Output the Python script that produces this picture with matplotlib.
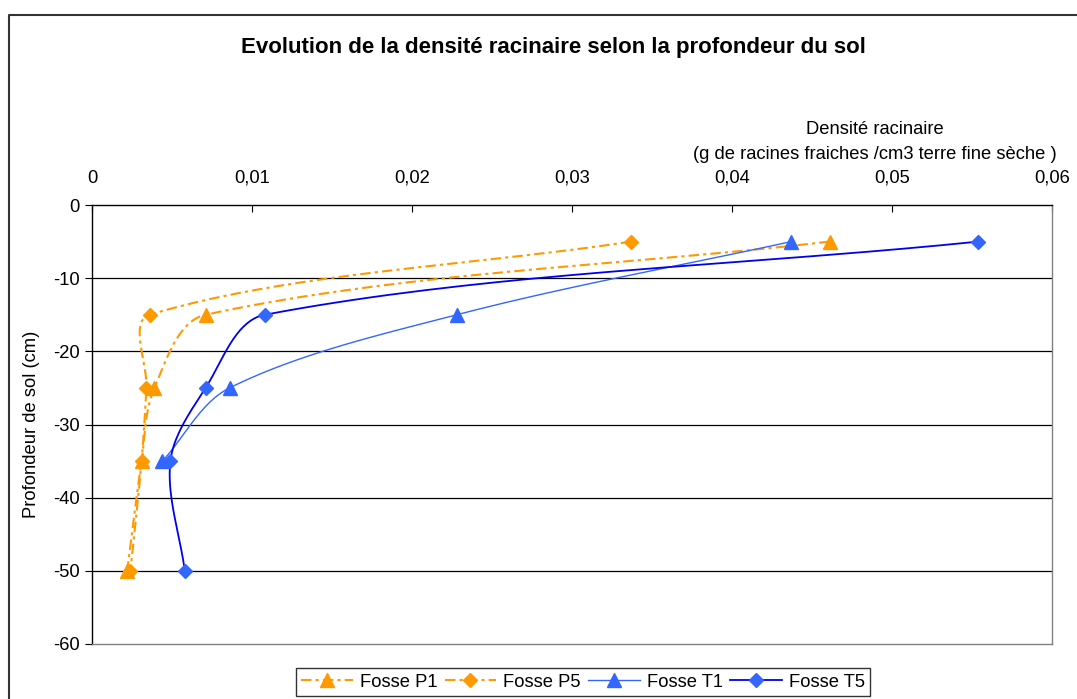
import numpy as np
import matplotlib
matplotlib.use("Agg")
import matplotlib.pyplot as plt
from matplotlib.lines import Line2D
from matplotlib.ticker import FuncFormatter

plt.rcParams['font.family'] = ['Liberation Sans', 'DejaVu Sans']

# data
depth = [-5, -15, -25, -35, -50]
depth_t1 = [-5, -15, -25, -35]
p1 = [0.0461, 0.0071, 0.0039, 0.0031, 0.0022]
p5 = [0.0337, 0.0036, 0.0034, 0.0031, 0.0024]
t1 = [0.0437, 0.0228, 0.0086, 0.0044]
t5 = [0.0554, 0.0108, 0.0071, 0.0049, 0.0058]

x_ticks = [0, 0.01, 0.02, 0.03, 0.04, 0.05, 0.06]
y_ticks = [0, -10, -20, -30, -40, -50, -60]


def smooth(xv, yv, n=40):
    # bezier smoothing like Excel, tangents weighted by chord lengths
    sx, sy = 960 / 0.06, 439 / 60
    pts = np.column_stack([np.array(xv) * sx, np.array(yv) * sy])
    m = len(pts)
    out = []
    for i in range(m - 1):
        a, b = pts[i], pts[i + 1]
        lab = np.linalg.norm(b - a)
        if i > 0:
            prev = pts[i - 1]
            lpa = np.linalg.norm(a - prev)
            c1 = a + (b - prev) * lab / (lpa + lab) / 3
        else:
            c1 = a + (b - a) / 3
        if i + 2 < m:
            nxt = pts[i + 2]
            lbn = np.linalg.norm(nxt - b)
            c2 = b - (nxt - a) * lab / (lab + lbn) / 3
        else:
            c2 = b - (b - a) / 3
        t = np.linspace(0, 1, n)[:, None]
        seg = ((1 - t) ** 3 * a + 3 * (1 - t) ** 2 * t * c1
               + 3 * (1 - t) * t ** 2 * c2 + t ** 3 * b)
        out.append(seg if i == 0 else seg[1:])
    out = np.vstack(out)
    return out[:, 0] / sx, out[:, 1] / sy


W, H = 1077, 699
fs = 13.2
fig = plt.figure(figsize=(W / 100, H / 100), dpi=100)
ax = fig.add_axes([92 / W, 1 - 644 / H, 960 / W, 439 / H])

orange = '#FF9900'
light_blue = '#3366FF'
dark_blue = '#0000EE'
dash = (0, (5, 2, 1.5, 2))

series = [
    (p1, depth, orange, '^', dash, 1.5, 'Fosse P1'),
    (p5, depth, orange, 'D', dash, 1.5, 'Fosse P5'),
    (t1, depth_t1, light_blue, '^', '-', 1.0, 'Fosse T1'),
    (t5, depth, dark_blue, 'D', '-', 1.3, 'Fosse T5'),
]
handles = []
for xv, yv, col, mk, ls, lw, lab in series:
    xs, ys = smooth(xv, yv)
    ax.plot(xs, ys, color=col, linestyle=ls, linewidth=lw, zorder=3)
    mcol = orange if col == orange else light_blue
    ms = 9.5 if mk == '^' else 7
    ax.plot(xv, yv, linestyle='none', marker=mk, markersize=ms,
            color=mcol, markeredgecolor=mcol, zorder=4)
    handles.append(Line2D([], [], color=col, linestyle=ls, linewidth=lw,
                          marker=mk, markersize=ms, markerfacecolor=mcol,
                          markeredgecolor=mcol, label=lab))

ax.set_xlim(0, 0.06)
ax.set_ylim(-60, 0)
ax.xaxis.tick_top()
ax.set_xticks(x_ticks)
ax.set_yticks(y_ticks)
ax.xaxis.set_major_formatter(FuncFormatter(
    lambda v, p: '0' if v == 0 else ('%g' % round(v, 3)).replace('.', ',')))
ax.yaxis.set_major_formatter(FuncFormatter(lambda v, p: '%d' % v))
ax.tick_params(axis='x', direction='in', length=5, labelsize=fs,
               pad=13, colors='black')
ax.tick_params(axis='y', direction='out', length=5, labelsize=fs, pad=4)
for yv in y_ticks[1:-1]:
    ax.axhline(yv, color='black', linewidth=0.9, zorder=1)

ax.spines['top'].set_color('black')
ax.spines['left'].set_color('black')
ax.spines['right'].set_color('#808080')
ax.spines['bottom'].set_color('#808080')
for s in ax.spines.values():
    s.set_linewidth(1.0)

ax.set_ylabel('Profondeur de sol (cm)', fontsize=fs, labelpad=9)
fig.text(875 / W, 1 - 142 / H,
         'Densité racinaire\n(g de racines fraiches /cm3 terre fine sèche )',
         ha='center', va='center', multialignment='center', fontsize=fs,
         linespacing=1.55)
fig.text(553 / W, 1 - 48 / H,
         'Evolution de la densité racinaire selon la profondeur du sol',
         ha='center', va='center', fontsize=16, fontweight='bold')

# chart area frame (left and top edges visible)
fig.add_artist(Line2D([9 / W, 9 / W, 1.0], [0, 1 - 15 / H, 1 - 15 / H],
                      color='#333333', linewidth=1.5))

leg = fig.legend(handles=handles, loc='lower center', ncol=4,
                 bbox_to_anchor=(583 / W, 1 / H), fontsize=fs,
                 frameon=True, fancybox=False, edgecolor='black',
                 handlelength=2.8, columnspacing=0.4, handletextpad=0.4,
                 borderpad=0.3, borderaxespad=0.1)
leg.get_frame().set_linewidth(1.0)

fig.savefig('out.png', dpi=100)
